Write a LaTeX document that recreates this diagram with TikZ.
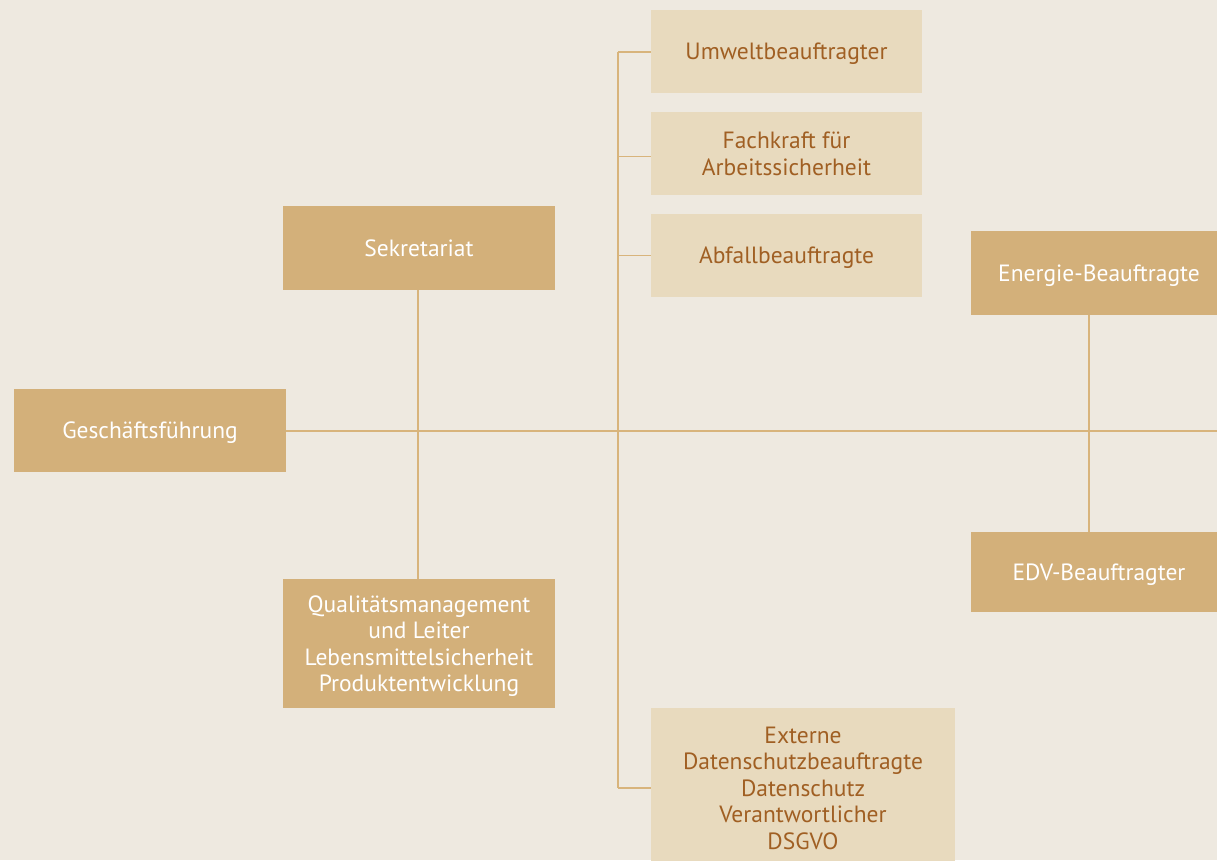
\documentclass[tikz,border=0pt]{standalone}
\usepackage{fontspec}
\setmainfont{PT Sans}
\definecolor{paper}{HTML}{EEE9E0}
\definecolor{darkbox}{HTML}{D3B07A}
\definecolor{lightbox}{HTML}{E8DABE}
\definecolor{browntext}{HTML}{A05F23}
\definecolor{linecol}{HTML}{D8B47C}
\begin{document}
\begin{tikzpicture}[x=1pt,y=-1pt,
  box/.style={rectangle,inner sep=0pt,align=center,text depth=0pt,font=\fontsize{23.5}{26.5}\selectfont},
  darkb/.style={box,fill=darkbox,text=white},
  lightb/.style={box,fill=lightbox,text=browntext},
  conn/.style={draw=linecol,line width=1.5pt}]
\fill[paper] (0,0) rectangle (1217,860);
\useasboundingbox (0,0) rectangle (1217,860);
\clip (0,0) rectangle (1217,860);

\node[darkb,minimum width=272pt,minimum height=83pt] (gf) at (150,430.5) {Geschäftsführung};
\node[darkb,minimum width=272pt,minimum height=84pt] (sek) at (419,248) {Sekretariat};
\node[darkb,minimum width=272pt,minimum height=129pt] (qm) at (419,643.5) {Qualitätsmanagement\\und Leiter\\Lebensmittelsicherheit\\Produktentwicklung};
\node[lightb,minimum width=271pt,minimum height=83pt] (uw) at (786.5,51.5) {Umweltbeauftragter};
\node[lightb,minimum width=271pt,minimum height=83pt] (fk) at (786.5,153.5) {Fachkraft für\\Arbeitssicherheit};
\node[lightb,minimum width=271pt,minimum height=83pt] (ab) at (786.5,255.5) {Abfallbeauftragte};
\node[lightb,minimum width=304pt,minimum height=160pt] (ext) at (803,788) {Externe\\Datenschutzbeauftragte\\Datenschutz\\Verantwortlicher\\DSGVO};
\node[darkb,minimum width=256pt,minimum height=84pt] (en) at (1099,273) {Energie-Beauftragte};
\node[darkb,minimum width=256pt,minimum height=80pt] (edv) at (1099,572) {EDV-Beauftragter};

\coordinate (rend) at (1217,431);
\coordinate (vtop) at (618,52);
\coordinate (vbot) at (618,788);
\coordinate (evl) at (1089,431);

\draw[conn] (gf.east |- rend) -- (rend);
\draw[conn] (sek.south -| 418,0) -- (qm.north -| 418,0);
\draw[conn] (vtop) -- (vbot);
\draw[conn] (vtop) -- (uw.west |- vtop);
\draw[conn] (fk.west -| vtop) ++(0,3) -- (fk.west |- 0,156.5);
\draw[conn] (ab.west -| vtop) -- (ab.west);
\draw[conn] (vbot) -- (ext.west);
\draw[conn] (en.south -| evl) -- (edv.north -| evl);
\end{tikzpicture}
\end{document}
